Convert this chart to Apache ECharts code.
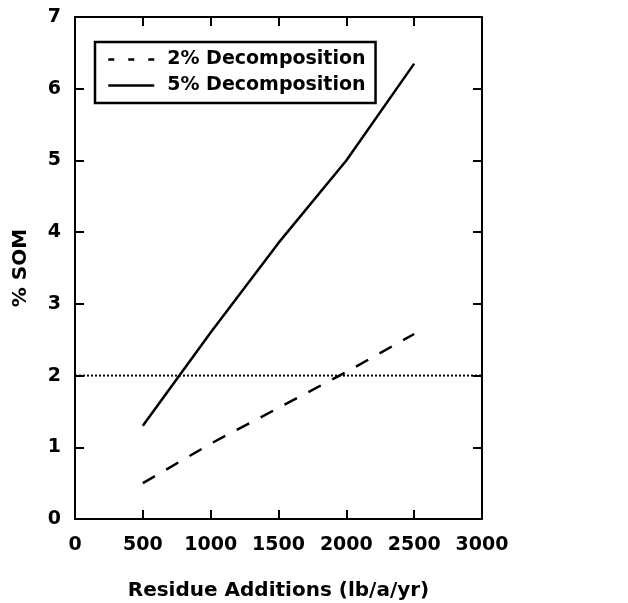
<!DOCTYPE html>
<html>
<head>
<meta charset="utf-8">
<script src="https://cdn.jsdelivr.net/npm/echarts@6/dist/echarts.min.js"></script>
<style>html,body{margin:0;padding:0;background:#fff}#c{width:628px;height:603px}</style>
</head>
<body>
<div id="c"></div>
<script>
const residue = [500, 1000, 1500, 2000, 2500];
const decomp2 = [0.5, 1.05, 1.55, 2.05, 2.58];
const decomp5 = [1.3, 2.6, 3.85, 5.0, 6.35];
const reference = [[0, 2], [3000, 2]];
const seriesNames = ['2% Decomposition', '5% Decomposition'];

const font = 'DejaVu Sans';
const chart = echarts.init(document.getElementById('c'));
const axisCommon = {
  axisLine: { show: true, onZero: false, lineStyle: { color: '#000', width: 2 } },
  axisTick: { show: true, inside: true, length: 9, lineStyle: { color: '#000', width: 2 } },
  splitLine: { show: false }
};
chart.setOption({
  backgroundColor: '#fff',
  animation: false,
  grid: { left: 75, right: 146, top: 17, bottom: 84, outerBoundsMode: 'none', containLabel: false },
  legend: {
    data: [
      { name: seriesNames[0], lineStyle: { type: [6, 14], width: 2.5, color: '#000' } },
      { name: seriesNames[1], lineStyle: { type: 'solid', width: 2.5, color: '#000' } }
    ],
    orient: 'vertical',
    left: 95, top: 42,
    borderColor: '#000', borderWidth: 2.5,
    padding: [8, 10, 8, 12],
    itemGap: 7,
    itemWidth: 46, itemHeight: 14,
    itemStyle: { color: 'transparent', borderWidth: 0, opacity: 0 },
    textStyle: { fontFamily: font, fontWeight: 'bold', fontSize: 19, color: '#000', padding: [0, 0, 0, 8] }
  },
  xAxis: [
    Object.assign({
      type: 'value', min: 0, max: 3000, interval: 500, position: 'bottom',
      name: 'Residue Additions (lb/a/yr)', nameLocation: 'middle', nameGap: 62,
      nameTextStyle: { fontFamily: font, fontWeight: 'bold', fontSize: 20, color: '#000' },
      axisLabel: { fontFamily: font, fontWeight: 'bold', fontSize: 19, color: '#000', margin: 17, formatter: v => String(v) }
    }, axisCommon),
    Object.assign({
      type: 'value', min: 0, max: 3000, interval: 500, position: 'top',
      axisLabel: { show: false }
    }, axisCommon)
  ],
  yAxis: [
    Object.assign({
      type: 'value', min: 0, max: 7, interval: 1, position: 'left',
      name: '% SOM', nameLocation: 'middle', nameGap: 44, nameRotate: 90,
      nameTextStyle: { fontFamily: font, fontWeight: 'bold', fontSize: 20, color: '#000' },
      axisLabel: { fontFamily: font, fontWeight: 'bold', fontSize: 19, color: '#000', margin: 14 }
    }, axisCommon),
    Object.assign({
      type: 'value', min: 0, max: 7, interval: 1, position: 'right',
      axisLabel: { show: false }
    }, axisCommon)
  ],
  series: [
    {
      name: seriesNames[0], type: 'line', symbol: 'none',
      data: residue.map((x, i) => [x, decomp2[i]]),
      lineStyle: { color: '#000', width: 2.5, type: [14, 13] },
      itemStyle: { color: '#000' }
    },
    {
      name: seriesNames[1], type: 'line', symbol: 'none',
      data: residue.map((x, i) => [x, decomp5[i]]),
      lineStyle: { color: '#000', width: 2.5, type: 'solid' },
      itemStyle: { color: '#000' }
    },
    {
      name: 'ref', type: 'line', symbol: 'none', silent: true,
      data: reference,
      lineStyle: { color: '#000', width: 2, type: [2, 2] }
    }
  ]
});
</script>
</body>
</html>
